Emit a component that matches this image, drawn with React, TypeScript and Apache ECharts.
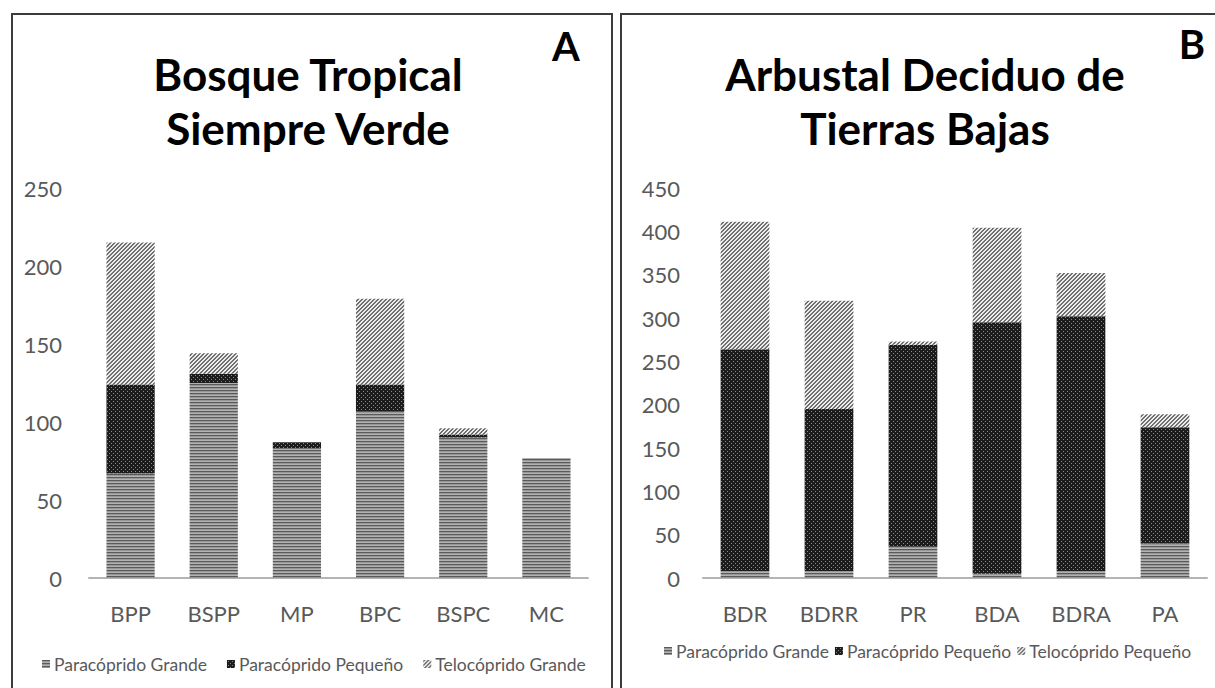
import React, { useEffect, useRef } from 'react';
import * as echarts from 'echarts';

// Panel A
const catsA = ['BPP', 'BSPP', 'MP', 'BPC', 'BSPC', 'MC'];
const grandeA = [67, 125, 83, 107, 90, 77];
const pequenoA = [57, 6, 4, 17, 2, 0];
const teloA = [91, 13, 0, 55, 4, 0];
const namesA = ['Paracóprido Grande', 'Paracóprido Pequeño', 'Telocóprido Grande'];
const yMaxA = 250;
const yStepA = 50;

// Panel B
const catsB = ['BDR', 'BDRR', 'PR', 'BDA', 'BDRA', 'PA'];
const grandeB = [8, 8, 36, 5, 8, 40];
const pequenoB = [256, 187, 233, 290, 294, 134];
const teloB = [147, 125, 4, 109, 50, 15];
const namesB = ['Paracóprido Grande', 'Paracóprido Pequeño', 'Telocóprido Pequeño'];
const yMaxB = 450;
const yStepB = 50;

const titleA = ['Bosque Tropical', 'Siempre Verde'];
const titleB = ['Arbustal Deciduo de', 'Tierras Bajas'];

const FONT = 'Lato';

function makePattern(w: number, h: number, fn: (x: number, y: number) => string) {
  const c = document.createElement('canvas');
  c.width = w;
  c.height = h;
  const ctx = c.getContext('2d')!;
  for (let y = 0; y < h; y++) {
    for (let x = 0; x < w; x++) {
      ctx.fillStyle = fn(x, y);
      ctx.fillRect(x, y, 1, 1);
    }
  }
  return { image: c.toDataURL(), repeat: 'repeat', imageWidth: w, imageHeight: h } as any;
}

export default function App() {
  const ref = useRef<HTMLDivElement>(null);

  useEffect(() => {
    if (!ref.current) return;
    const chart = echarts.init(ref.current, undefined, { renderer: 'svg' });

    const grandePat = makePattern(1, 3, (_x, y) => (y === 0 ? '#5a5a5a' : y === 1 ? '#979797' : '#b2b2b2'));
    const pequenoPat = makePattern(4, 4, (x, y) =>
      (x === 1 && y === 1) || (x === 3 && y === 3) ? '#8a8a8a' : '#1c1c1c'
    );
    const teloPat = makePattern(4, 4, (x, y) => ((x + y) % 4 <= 1 ? '#707070' : '#ececec'));
    const pats = [grandePat, pequenoPat, teloPat];

    const axisLabel = { color: '#595959', fontFamily: FONT, fontSize: 22 };

    const mkSeries = (names: string[], data: number[][], axisIdx: number, stack: string) =>
      names.map((n, i) => ({
        name: n,
        type: 'bar',
        stack,
        xAxisIndex: axisIdx,
        yAxisIndex: axisIdx,
        barWidth: '58%',
        data: data[i],
        itemStyle: { color: pats[i] },
        emphasis: { disabled: true },
      }));

    const titleText = (lines: string[], cx: number) =>
      lines.map((t, i) => ({
        type: 'text',
        x: cx,
        y: i === 0 ? 74 : 128,
        style: {
          text: t,
          font: `bold 44px ${FONT}`,
          fill: '#000',
          align: 'center',
          verticalAlign: 'middle',
        },
      }));

    const legendText = { color: '#595959', fontFamily: FONT, fontSize: 17.5, padding: [0, 0, 0, -1] };

    chart.setOption({
      animation: false,
      backgroundColor: '#fff',
      graphic: [
        { type: 'rect', shape: { x: 12, y: 14, width: 600, height: 700 }, style: { fill: 'none', stroke: '#3c3c3c', lineWidth: 2 } },
        { type: 'rect', shape: { x: 621, y: 14, width: 700, height: 700 }, style: { fill: 'none', stroke: '#3c3c3c', lineWidth: 2 } },
        ...titleText(titleA, 308),
        ...titleText(titleB, 925),
        { type: 'text', x: 566, y: 46, style: { text: 'A', font: `bold 40px ${FONT}`, fill: '#000', align: 'center', verticalAlign: 'middle' } },
        { type: 'text', x: 1192, y: 44, style: { text: 'B', font: `bold 40px ${FONT}`, fill: '#000', align: 'center', verticalAlign: 'middle' } },
      ],
      legend: [
        {
          data: namesA,
          left: 37,
          top: 650,
          itemWidth: 8,
          itemHeight: 8,
          itemGap: 20,
          icon: 'rect',
          selectedMode: false,
          textStyle: legendText,
        },
        {
          data: namesB,
          left: 659,
          top: 637,
          itemWidth: 8,
          itemHeight: 8,
          itemGap: 6,
          icon: 'rect',
          selectedMode: false,
          textStyle: legendText,
        },
      ],
      grid: [
        { left: 89, top: 188, width: 499, height: 390 },
        { left: 703, top: 188, width: 504, height: 390 },
      ],
      xAxis: [0, 1].map((i) => ({
        type: 'category',
        gridIndex: i,
        data: i === 0 ? catsA : catsB,
        axisTick: { show: false },
        axisLine: { lineStyle: { color: '#b4b4b4', width: 2 } },
        axisLabel: { ...axisLabel, margin: 24 },
      })),
      yAxis: [0, 1].map((i) => ({
        type: 'value',
        gridIndex: i,
        min: 0,
        max: i === 0 ? yMaxA : yMaxB,
        interval: i === 0 ? yStepA : yStepB,
        axisLine: { show: false },
        axisTick: { show: false },
        splitLine: { show: false },
        axisLabel: { ...axisLabel, margin: i === 0 ? 27 : 23 },
      })),
      series: [
        ...mkSeries(namesA, [grandeA, pequenoA, teloA], 0, 'a'),
        ...mkSeries(namesB, [grandeB, pequenoB, teloB], 1, 'b'),
      ],
    } as any);

    return () => chart.dispose();
  }, []);

  return (
    <div
      ref={ref}
      style={{ position: 'absolute', left: 0, top: 0, width: 1215, height: 688, background: '#fff' }}
    />
  );
}
